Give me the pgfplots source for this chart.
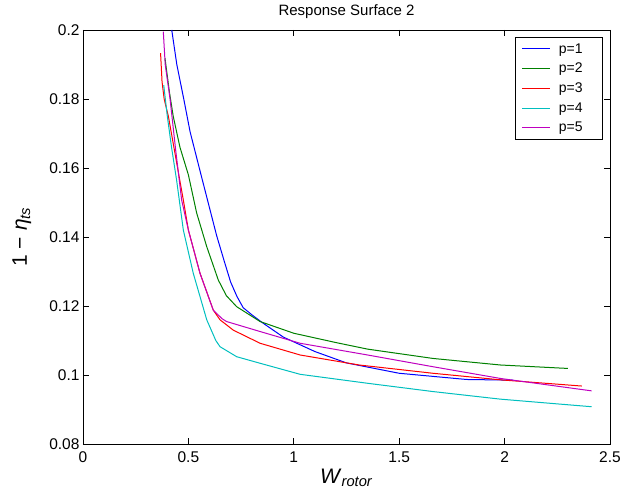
\documentclass[border=0pt]{standalone}
\usepackage{pgfplots}
\pgfplotsset{compat=1.18}
\usepackage{fontspec}
\setmainfont{Liberation Sans}
\definecolor{mgreen}{rgb}{0,0.5,0}
\definecolor{mcyan}{rgb}{0,0.75,0.75}
\definecolor{mmagenta}{rgb}{0.75,0,0.75}
\begin{document}
\begin{tikzpicture}
% page frame: 621 x 495, axis box at (83,30)-(610,444) from the top left
\path[use as bounding box] (-83pt,-51pt) rectangle (538pt,444pt);
\begin{axis}[
    at={(0pt,0pt)}, anchor=south west,
    width=527pt, height=414pt, scale only axis,
    xmin=0, xmax=2.5, ymin=0.08, ymax=0.2,
    xtick={0,0.5,1,1.5,2,2.5},
    ytick={0.08,0.1,0.12,0.14,0.16,0.18,0.2},
    yticklabels={0.08,0.1,0.12,0.14,0.16,0.18,0.2},
    scaled y ticks=false,
    tick align=inside,
    major tick length=6pt,
    axis line style={line width=0.9pt},
    every tick/.style={black, line width=0.8pt},
    /pgf/number format/assume math mode=true,
    tick label style={font=\fontsize{15.5}{17}\selectfont},
    xticklabel style={yshift=-4pt},
    title={Response Surface 2},
    title style={font=\fontsize{15}{17}\selectfont, at={(axis description cs:0.5,1.029)}, anchor=center},
    xlabel={\textit{W}\textsubscript{\textit{rotor}}},
    xlabel style={font=\fontsize{21}{24}\selectfont, at={(axis description cs:0.5,-0.082)}, anchor=center},
    ylabel={1 − \textit{η}\textsubscript{\textit{ts}}},
    ylabel style={font=\fontsize{21}{24}\selectfont, at={(axis description cs:-0.116,0.5)}, anchor=center},
    legend style={at={(axis description cs:0.9867,0.983)}, anchor=north east,
        draw=black, line width=0.8pt, font=\fontsize{14}{16}\selectfont,
        row sep=4.5pt, inner xsep=6pt, inner ysep=4pt},
    legend cell align=left,
    legend image code/.code={\draw[#1, line width=1pt] (0pt,0pt) -- (28pt,0pt);},
    every axis plot/.append style={line width=1pt},
]
\addplot[blue] coordinates {
(0.421,0.200) (0.445,0.190) (0.478,0.180) (0.508,0.1705) (0.560,0.158)
(0.634,0.1404) (0.670,0.133) (0.700,0.127) (0.730,0.1228) (0.760,0.1195)
(0.800,0.1175) (0.850,0.1152) (0.950,0.1110) (1.100,0.1068) (1.250,0.1035)
(1.500,0.1005) (1.820,0.0987) (2.040,0.0985)
};
\addlegendentry{\hspace*{6pt}p=1\hspace*{12pt}}
\addplot[mgreen] coordinates {
(0.389,0.1918) (0.410,0.182) (0.428,0.175) (0.460,0.166) (0.500,0.158)
(0.539,0.147) (0.587,0.1372) (0.642,0.1275) (0.680,0.123) (0.729,0.1198)
(0.840,0.1155) (1.000,0.1121) (1.200,0.1094) (1.350,0.1075) (1.660,0.1048)
(1.980,0.1029) (2.300,0.1019)
};
\addlegendentry{\hspace*{6pt}p=2\hspace*{12pt}}
\addplot[red] coordinates {
(0.368,0.1933) (0.375,0.185) (0.385,0.180) (0.405,0.175) (0.440,0.163)
(0.476,0.1507) (0.500,0.142) (0.555,0.1295) (0.618,0.1188) (0.650,0.116)
(0.713,0.113) (0.840,0.1092) (1.030,0.1058) (1.310,0.1029) (1.660,0.1005)
(1.980,0.0986) (2.366,0.0968)
};
\addlegendentry{\hspace*{6pt}p=3\hspace*{12pt}}
\addplot[mcyan] coordinates {
(0.383,0.184) (0.400,0.175) (0.420,0.166) (0.444,0.1565) (0.476,0.142)
(0.523,0.1295) (0.587,0.116) (0.630,0.110) (0.650,0.1082) (0.729,0.1053)
(0.840,0.1034) (1.030,0.1002) (1.350,0.0976) (1.660,0.0952) (1.980,0.0930)
(2.413,0.0908)
};
\addlegendentry{\hspace*{6pt}p=4\hspace*{12pt}}
\addplot[mmagenta] coordinates {
(0.381,0.1995) (0.390,0.190) (0.413,0.180) (0.440,0.165) (0.468,0.1507)
(0.500,0.142) (0.555,0.1295) (0.618,0.1188) (0.660,0.1163) (0.681,0.1155)
(0.840,0.1126) (1.030,0.1092) (1.350,0.1058) (1.660,0.1024) (1.980,0.0990)
(2.413,0.0954)
};
\addlegendentry{\hspace*{6pt}p=5\hspace*{12pt}}
\end{axis}
\end{tikzpicture}
\end{document}
